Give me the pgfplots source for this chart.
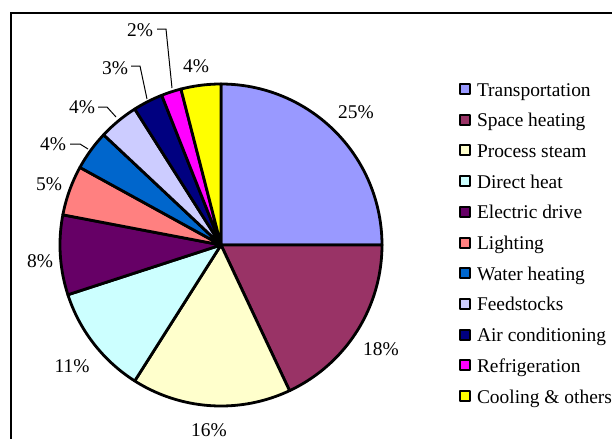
\documentclass[border=0pt]{standalone}
\usepackage{pgfplots}
\pgfplotsset{compat=1.18}
\usepackage{pgfplotstable}
\usepackage{fontspec}
\setmainfont{Liberation Serif}

\definecolor{c1}{HTML}{9999FF}
\definecolor{c2}{HTML}{993366}
\definecolor{c3}{HTML}{FFFFCC}
\definecolor{c4}{HTML}{CCFFFF}
\definecolor{c5}{HTML}{660066}
\definecolor{c6}{HTML}{FF8080}
\definecolor{c7}{HTML}{0066CC}
\definecolor{c8}{HTML}{CCCCFF}
\definecolor{c9}{HTML}{000080}
\definecolor{c10}{HTML}{FF00FF}
\definecolor{c11}{HTML}{FFFF00}

\pgfplotstableread[col sep=comma]{
name,value,color
Transportation,25,c1
Space heating,18,c2
Process steam,16,c3
Direct heat,11,c4
Electric drive,8,c5
Lighting,5,c6
Water heating,4,c7
Feedstocks,4,c8
Air conditioning,3,c9
Refrigeration,2,c10
Cooling \& others,4,c11
}\pietable

\newcommand\lbl{\fontsize{19.5}{19.5}\selectfont}

\begin{document}
\begin{tikzpicture}
\begin{axis}[
  x=1bp, y=1bp, xmin=0, xmax=612, ymin=0, ymax=439,
  anchor=origin, at={(0,0)},
  hide axis, clip=false,
  legend cell align=left,
  legend image code/.code={\draw[#1, line width=2bp] (1bp,-5bp) rectangle (11bp,5bp);},
  legend style={at={(axis cs:459,357)}, anchor=north west, draw=none, fill=none,
    inner sep=0pt, outer sep=0pt, row sep=16.7bp, column sep=6bp,
    nodes={inner sep=0pt, text height=14bp, text depth=0pt},
    font=\lbl},
]
\gdef\angstart{90}
\pgfplotsforeachungrouped \i in {0,...,10}{%
  \pgfplotstablegetelem{\i}{value}\of\pietable \let\val\pgfplotsretval
  \pgfplotstablegetelem{\i}{color}\of\pietable \let\col\pgfplotsretval
  \pgfplotstablegetelem{\i}{name}\of\pietable \let\nam\pgfplotsretval
  \pgfmathsetmacro\angend{\angstart-3.6*\val}%
  \edef\temp{\noexpand\addplot[draw=black, line width=2.8bp, line join=round, fill=\col, domain=\angend:\angstart, samples=90] ({221+161*cos(x)},{194+161*sin(x)}) -- (221,194) -- cycle;
  \noexpand\addlegendentry{\unexpanded\expandafter{\nam}}}%
  \temp
  \global\let\angstart\angend
}
% frame
\draw[line width=1.5bp] (11,426) rectangle (660,-60);
% data labels
\node[font=\lbl] at (356,327) {25\%};
\node[font=\lbl] at (381,90) {18\%};
\node[font=\lbl] at (209,9) {16\%};
\node[font=\lbl] at (72,73) {11\%};
\node[font=\lbl] at (40,178) {8\%};
\node[font=\lbl] at (49,255) {5\%};
\node[font=\lbl] at (53,295) {4\%};
\node[font=\lbl] at (82,332) {4\%};
\node[font=\lbl] at (115,371) {3\%};
\node[font=\lbl] at (140,409) {2\%};
\node[font=\lbl] at (196,373) {4\%};
% leader lines
\draw[line width=1bp] (157,410) -- (166,410) -- (172,351);
\draw[line width=1bp] (131,373) -- (140,373) -- (147,340);
\draw[line width=1bp] (98,332) -- (107,332) -- (116,322);
\draw[line width=1bp] (70,295) -- (80,295) -- (88,290);
\end{axis}
\pgfresetboundingbox
\useasboundingbox (0,0) rectangle (612bp,439bp);
\end{tikzpicture}
\end{document}
